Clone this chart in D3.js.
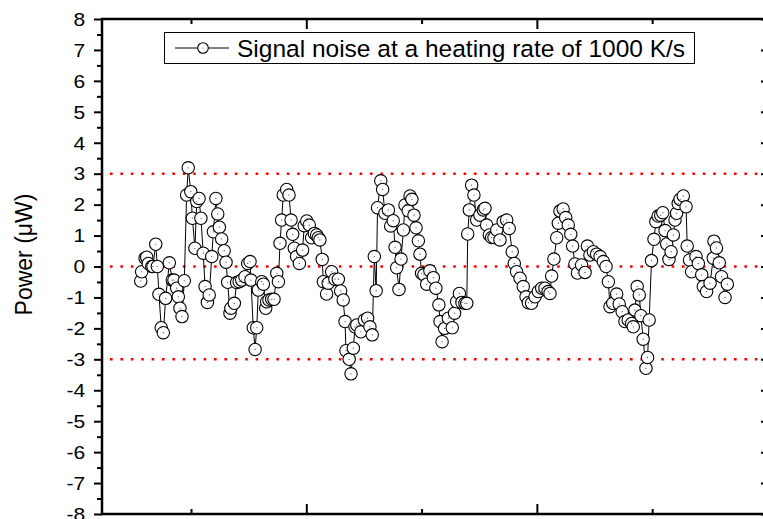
<!DOCTYPE html>
<html>
<head>
<meta charset="utf-8">
<script src="https://cdn.jsdelivr.net/npm/d3@7/dist/d3.min.js"></script>
<style>
  html, body { margin: 0; padding: 0; background: #fff; }
  svg { display: block; font-family: "Liberation Sans", Arial, sans-serif; }
</style>
</head>
<body>
<svg id="chart" width="763" height="519"></svg>
<script>
// Time stamps (s) of each sample
const time = [
  0.282,0.286,0.301,0.308,0.315,0.330,0.335,0.347,0.354,0.361,
  0.371,0.380,0.390,0.406,0.419,0.426,0.438,0.445,0.452,0.461,
  0.471,0.481,0.488,0.499,0.506,0.517,0.525,0.535,0.543,0.553,
  0.561,0.571,0.579,0.590,0.597,0.608,0.616,0.623,0.633,0.644,
  0.652,0.659,0.669,0.673,0.688,0.698,0.709,0.720,0.734,0.746,
  0.756,0.760,0.770,0.778,0.785,0.792,0.807,0.814,0.824,0.828,
  0.838,0.850,0.860,0.872,0.879,0.886,0.893,0.900,0.915,0.925,
  0.934,0.941,0.948,0.958,0.970,0.984,0.991,1.002,1.013,1.023,
  1.035,1.045,1.052,1.059,1.069,1.074,1.088,1.095,1.110,1.124,
  1.139,1.149,1.160,1.168,1.172,1.186,1.194,1.204,1.211,1.219,
  1.237,1.252,1.266,1.276,1.286,1.295,1.303,1.309,1.323,1.331,
  1.341,1.356,1.366,1.377,1.385,1.392,1.402,1.411,1.421,1.428,
  1.442,1.450,1.458,1.467,1.476,1.486,1.493,1.500,1.510,1.522,
  1.536,1.551,1.562,1.575,1.580,1.589,1.600,1.616,1.633,1.643,
  1.652,1.664,1.675,1.688,1.696,1.700,1.707,1.717,1.727,1.739,
  1.753,1.768,1.775,1.782,1.794,1.804,1.814,1.826,1.840,1.854,
  1.869,1.880,1.893,1.902,1.912,1.927,1.941,1.953,1.963,1.977,
  1.992,2.006,2.021,2.035,2.049,2.057,2.064,2.074,2.086,2.093,
  2.100,2.114,2.125,2.136,2.147,2.155,2.165,2.176,2.194,2.209,
  2.219,2.230,2.245,2.259,2.274,2.288,2.300,2.310,2.317,2.329,
  2.346,2.357,2.370,2.382,2.396,2.411,2.418,2.425,2.435,2.444,
  2.451,2.461,2.473,2.480,2.487,2.497,2.508,2.516,2.526,2.537,
  2.546,2.556,2.563,2.573,2.582,2.592,2.599,2.606,2.613,2.621,
  2.635,2.647,2.652,2.662,2.671,2.690,2.700,2.715,2.722,2.736,
  2.751,2.765,2.768,2.779,2.791,2.801,2.816,2.826
];

// Measured signal power (µW)
const power = [
  -0.47,-0.17,0.27,0.30,0.10,0.00,0.00,0.72,0.00,-0.90,
  -1.98,-2.14,-1.03,0.12,-0.44,-0.44,-0.70,-0.98,-1.35,-1.62,
  -0.46,2.31,3.19,2.42,1.56,0.59,2.10,2.20,1.56,0.43,
  -0.65,-1.16,-0.92,0.32,1.12,2.20,1.70,1.27,0.89,0.51,
  0.14,-0.51,-1.51,-1.35,-1.19,-0.52,-0.49,-0.44,-0.33,0.10,
  0.16,-0.44,-1.98,-2.68,-1.98,-0.76,-0.49,-0.57,-1.35,-1.14,
  -1.08,-1.06,-1.06,-0.22,-0.49,0.75,1.50,2.31,2.49,2.31,
  1.50,1.04,0.59,0.32,0.10,0.53,1.32,1.47,1.34,0.93,
  1.07,1.02,0.93,0.86,0.23,-0.49,-0.89,-0.54,-0.17,-0.41,
  -0.41,-0.79,-1.08,-1.78,-2.72,-3.00,-3.47,-2.64,-1.95,-1.89,
  -2.11,-1.73,-1.67,-1.95,-2.21,0.32,-0.78,1.90,2.77,2.49,
  1.72,1.83,1.31,1.48,0.62,-0.04,-0.74,0.24,1.18,1.99,
  1.80,2.28,2.17,1.66,1.25,0.83,0.40,-0.22,-0.27,-0.57,
  -0.14,-0.36,-0.70,-1.24,-1.78,-2.43,-2.00,-1.67,-1.98,-1.51,
  -1.14,-0.87,-1.16,-1.19,-1.19,1.05,1.83,2.63,2.31,1.50,
  1.66,1.83,1.88,1.34,1.02,0.94,0.94,1.18,0.86,1.45,
  1.50,1.23,0.48,0.10,-0.17,-0.38,-0.65,-0.98,-1.17,-1.19,
  -0.98,-0.81,-0.70,-0.70,-0.81,-0.87,-0.31,0.24,0.93,1.40,
  1.79,1.86,1.58,1.34,1.04,0.66,0.08,-0.21,0.05,-0.19,
  0.66,0.37,0.48,0.40,0.32,0.16,0.00,-0.49,-1.30,-1.19,
  -0.89,-1.21,-1.46,-1.78,-1.73,-1.84,-1.95,-1.41,-0.65,-0.92,
  -1.59,-2.35,-3.29,-2.94,-1.73,0.19,0.88,1.45,1.63,1.66,
  1.74,1.16,0.73,0.23,0.48,1.02,1.50,1.72,2.04,2.17,
  2.28,1.93,0.66,0.21,-0.17,0.32,0.10,-0.27,-0.65,-0.81,
  -0.54,0.27,0.82,0.60,0.12,-0.33,-1.00,-0.57
];

// Axis settings
const yMajorTicks = [-8,-7,-6,-5,-4,-3,-2,-1,0,1,2,3,4,5,6,7,8];
const yMinorTicks = [-7.5,-6.5,-5.5,-4.5,-3.5,-2.5,-1.5,-0.5,0.5,1.5,2.5,3.5,4.5,5.5,6.5,7.5];
const xMajorTicks = [1, 2];
const xMinorTicks = [0.5, 1.5, 2.5];
const thresholdLevels = [3, 0, -3];
const yTitle = "Power (\u03BCW)";
const legendLabel = "Signal noise at a heating rate of 1000 K/s";

const svg = d3.select("#chart");
const plot = { left: 102, right: 767, top: 19, bottom: 514 };

const x = d3.scaleLinear().domain([0.114, 2.998]).range([plot.left, plot.right]);
const y = d3.scaleLinear().domain([-8, 8]).range([plot.bottom, plot.top]);

// Dotted reference levels
svg.append("g").selectAll("line")
  .data(thresholdLevels)
  .join("line")
  .attr("x1", plot.left + 8)
  .attr("x2", plot.right)
  .attr("y1", d => y(d))
  .attr("y2", d => y(d))
  .attr("stroke", "#ff0000")
  .attr("stroke-width", 2.6)
  .attr("stroke-dasharray", "2.6,7.8");

const pts = time.map((t, i) => ({ t, p: power[i] }));

// Connecting line
svg.append("path")
  .datum(pts)
  .attr("fill", "none")
  .attr("stroke", "#000")
  .attr("stroke-width", 1)
  .attr("d", d3.line().x(d => x(d.t)).y(d => y(d.p)));

// Open circle markers with a centre dot
const mk = svg.append("g");
mk.selectAll("circle.m")
  .data(pts)
  .join("circle")
  .attr("class", "m")
  .attr("cx", d => x(d.t))
  .attr("cy", d => y(d.p))
  .attr("r", 6.2)
  .attr("fill", "#fff")
  .attr("stroke", "#000")
  .attr("stroke-width", 1.1);
mk.selectAll("circle.c")
  .data(pts)
  .join("circle")
  .attr("class", "c")
  .attr("cx", d => x(d.t))
  .attr("cy", d => y(d.p))
  .attr("r", 0.6)
  .attr("fill", "#444");

// Axes
function styleAxis(g) {
  g.select(".domain").remove();
  g.selectAll(".tick line").attr("stroke", "#000").attr("stroke-width", 2);
  g.selectAll("text").attr("fill", "#000");
}

const yAxisMajor = d3.axisLeft(y).tickValues(yMajorTicks).tickSize(8)
  .tickFormat(d => String(d));
svg.append("g").attr("transform", `translate(${plot.left},0)`).call(yAxisMajor)
  .call(styleAxis)
  .call(g => g.selectAll("text")
    .attr("font-size", 17.5)
    .attr("font-family", "Liberation Sans, Arial, sans-serif")
    .attr("x", -14)
    .attr("dy", "0.36em")
    .attr("transform", "scale(1.2,1)"));
svg.append("g").attr("transform", `translate(${plot.left},0)`)
  .call(d3.axisLeft(y).tickValues(yMinorTicks).tickSize(5).tickFormat(""))
  .call(styleAxis);

// Right axis: inward ticks
svg.append("g").attr("transform", `translate(${plot.right},0)`)
  .call(d3.axisLeft(y).tickValues(yMajorTicks).tickSize(6).tickFormat(""))
  .call(styleAxis);

// Top and bottom axes: inward ticks
svg.append("g").attr("transform", `translate(0,${plot.top})`)
  .call(d3.axisBottom(x).tickValues(xMajorTicks).tickSize(10).tickFormat(""))
  .call(styleAxis);
svg.append("g").attr("transform", `translate(0,${plot.top})`)
  .call(d3.axisBottom(x).tickValues(xMinorTicks).tickSize(5).tickFormat(""))
  .call(styleAxis);
svg.append("g").attr("transform", `translate(0,${plot.bottom})`)
  .call(d3.axisTop(x).tickValues(xMajorTicks).tickSize(10).tickFormat(""))
  .call(styleAxis);
svg.append("g").attr("transform", `translate(0,${plot.bottom})`)
  .call(d3.axisTop(x).tickValues(xMinorTicks).tickSize(5).tickFormat(""))
  .call(styleAxis);

// Frame
svg.append("rect")
  .attr("x", plot.left).attr("y", plot.top)
  .attr("width", plot.right - plot.left).attr("height", plot.bottom - plot.top)
  .attr("fill", "none").attr("stroke", "#000").attr("stroke-width", 2.5);

// Y axis title
svg.append("text")
  .attr("transform", `translate(32,${(plot.top + plot.bottom) / 2 - 12}) rotate(-90)`)
  .attr("text-anchor", "middle")
  .attr("font-size", 23)
  .attr("fill", "#000")
  .text(yTitle);

// Legend
const lg = svg.append("g");
lg.append("rect")
  .attr("x", 164.5).attr("y", 32.5).attr("width", 530).attr("height", 31)
  .attr("fill", "#fff").attr("stroke", "#000").attr("stroke-width", 1);
lg.append("line")
  .attr("x1", 175).attr("x2", 229).attr("y1", 48).attr("y2", 48)
  .attr("stroke", "#000").attr("stroke-width", 1);
lg.append("circle")
  .attr("cx", 203).attr("cy", 48).attr("r", 5.3)
  .attr("fill", "#fff").attr("stroke", "#000").attr("stroke-width", 1.1);
lg.append("circle")
  .attr("cx", 203).attr("cy", 48).attr("r", 0.6).attr("fill", "#444");
lg.append("text")
  .attr("x", 237).attr("y", 57)
  .attr("font-size", 24.5)
  .attr("fill", "#000")
  .text(legendLabel);
</script>
</body>
</html>
